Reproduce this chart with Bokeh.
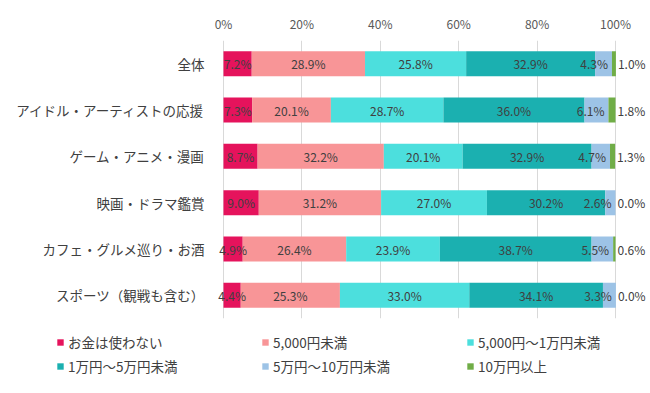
import numpy as np
from bokeh.plotting import figure
from bokeh.layouts import column
from bokeh.models import (ColumnDataSource, FactorRange, Range1d, FixedTicker,
                          PrintfTickFormatter, Legend, LegendItem)
from bokeh.embed import file_html
from bokeh.resources import INLINE
from bokeh.core.properties import value

FONT = "Noto Sans CJK JP"

categories = ["全体", "アイドル・アーティストの応援", "ゲーム・アニメ・漫画",
              "映画・ドラマ鑑賞", "カフェ・グルメ巡り・お酒", "スポーツ（観戦も含む）"]
series_names = ["お金は使わない", "5,000円未満", "5,000円～1万円未満",
                "1万円～5万円未満", "5万円～10万円未満", "10万円以上"]
no_spend = [7.2, 7.3, 8.7, 9.0, 4.9, 4.4]
under_5k = [28.9, 20.1, 32.2, 31.2, 26.4, 25.3]
from_5k_to_10k = [25.8, 28.7, 20.1, 27.0, 23.9, 33.0]
from_10k_to_50k = [32.9, 36.0, 32.9, 30.2, 38.7, 34.1]
from_50k_to_100k = [4.3, 6.1, 4.7, 2.6, 5.5, 3.3]
over_100k = [1.0, 1.8, 1.3, 0.0, 0.6, 0.0]
x_ticks = [0, 20, 40, 60, 80, 100]

colors = ["#E5135C", "#F89597", "#4CDFDD", "#1BB0B0", "#9DC3E6", "#70AD47"]
keys = ["s0", "s1", "s2", "s3", "s4", "s5"]
series = [no_spend, under_5k, from_5k_to_10k, from_10k_to_50k, from_50k_to_100k, over_100k]

data = {"cat": categories}
for k, s in zip(keys, series):
    data[k] = s
source = ColumnDataSource(data)

W = 650
H_MAIN, H_LEG = 330, 63
LEFT, RIGHT_EDGE = 211, 648          # frame edges in px
ZERO_PX, HUNDRED_PX = 223, 615       # where 0% and 100% fall
ppu = (HUNDRED_PX - ZERO_PX) / 100.0
x_start = -(ZERO_PX - LEFT) / ppu
x_end = (RIGHT_EDGE - ZERO_PX) / ppu

p = figure(width=W, height=H_MAIN, output_backend="svg", toolbar_location=None,
           y_range=FactorRange(factors=list(reversed(categories))),
           x_range=Range1d(x_start, x_end), x_axis_location="above",
           min_border_left=LEFT, min_border_right=W - RIGHT_EDGE, min_border_top=40,
           min_border_bottom=H_MAIN - 318)
p.frame_align = False
p.outline_line_color = None
p.background_fill_color = "white"
p.border_fill_color = "white"

renderers = p.hbar_stack(keys, y="cat", height=0.54, color=colors, source=source,
                         line_color=None)

# axes
p.xaxis.ticker = FixedTicker(ticks=x_ticks)
p.xaxis.formatter = PrintfTickFormatter(format="%d%%")
p.xaxis.axis_line_color = None
p.xaxis.major_tick_line_color = None
p.xaxis.minor_tick_line_color = None
p.xaxis.major_label_standoff = 3
p.xaxis.major_label_text_font = FONT
p.xaxis.major_label_text_font_size = "12px"
p.xaxis.major_label_text_color = "#595959"

p.yaxis.axis_line_color = None
p.yaxis.major_tick_line_color = None
p.yaxis.minor_tick_line_color = None
p.yaxis.major_label_standoff = 1
p.yaxis.major_label_text_font = FONT
p.yaxis.major_label_text_font_size = "13.5px"
p.yaxis.major_label_text_color = "#404040"

p.xgrid.grid_line_color = "#d9d9d9"
p.ygrid.grid_line_color = None

# data labels
arr = np.array(series)
cum_end = np.cumsum(arr, axis=0)
cum_start = cum_end - arr

def lab_src(idx, mode):
    xs, ys, ts = [], [], []
    for i in idx:
        for j, c in enumerate(categories):
            if mode == "center":
                xs.append(cum_start[i, j] + arr[i, j] / 2)
            else:
                xs.append(cum_end[i, j])
            ys.append(c)
            ts.append("%.1f%%" % arr[i, j])
    return ColumnDataSource(dict(x=xs, y=ys, text=ts))

common = dict(text_baseline="middle", text_font=value(FONT), text_font_size="12px",
              text_color="#404040")
p.text(x="x", y="y", text="text", source=lab_src([0, 1, 2, 3], "center"),
       text_align="center", **common)
p.text(x="x", y="y", text="text", source=lab_src([4], "end"),
       text_align="right", x_offset=-4, **common)
p.text(x="x", y="y", text="text", source=lab_src([5], "end"),
       text_align="left", x_offset=2, **common)

# legend in its own strip below the chart (zero-height bars only supply swatches)
pl = figure(width=W, height=H_LEG, output_backend="svg", toolbar_location=None,
            x_range=Range1d(0, 100), y_range=FactorRange(factors=categories),
            min_border=0)
pl.frame_align = False
pl.axis.visible = False
pl.grid.visible = False
pl.outline_line_color = None
pl.background_fill_color = "white"
pl.border_fill_color = "white"
leg_renderers = pl.hbar_stack(keys, y="cat", height=0, color=colors, source=source,
                              line_color=None)
items = [LegendItem(label=n, renderers=[r]) for n, r in zip(series_names, leg_renderers)]
legend = Legend(items=items, location=(56, 17), orientation="horizontal", ncols=3,
                glyph_width=8, glyph_height=8, label_width=189, label_height=16,
                label_standoff=4, spacing=4, padding=0, margin=0,
                border_line_color=None, background_fill_alpha=0,
                label_text_font=FONT, label_text_font_size="13.5px",
                label_text_color="#404040")
pl.add_layout(legend, "center")

layout = column(p, pl, spacing=0)
open("out.html", "w").write(file_html(layout, INLINE))
